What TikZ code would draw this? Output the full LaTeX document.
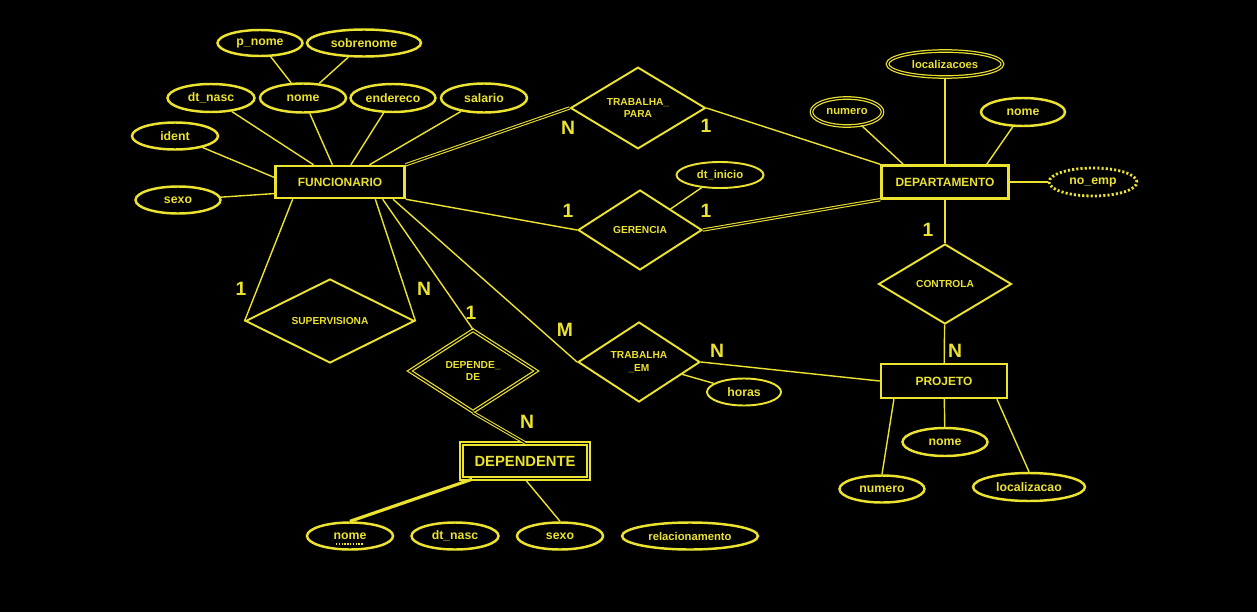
\documentclass[tikz,border=0pt]{standalone}
\usepackage{fontspec}
\setmainfont{Liberation Sans}
\definecolor{erYellow}{RGB}{236,226,48}
\usetikzlibrary{arrows.meta, positioning, shapes, calc}

\begin{document}
\begin{tikzpicture}[x=0.02cm, y=-0.02cm,
    entity/.style={draw=erYellow, line width=1.4pt, text=erYellow, font=\bfseries\fontsize{6.8}{8}\selectfont, inner sep=0pt},
    attr/.style={ellipse, draw=erYellow, line width=1.4pt, text=erYellow, font=\bfseries\fontsize{7}{8}\selectfont, inner sep=0pt},
    rel/.style={diamond, draw=erYellow, line width=1.1pt, text=erYellow, font=\bfseries\fontsize{5.8}{7}\selectfont, inner sep=0pt, align=center},
    link/.style={draw=erYellow, line width=0.8pt},
    total/.style={draw=erYellow, line width=0.6pt, double=black, double distance=0.7pt},
    card/.style={text=erYellow, font=\bfseries\fontsize{11}{12}\selectfont}]
        % Background
        \fill[black] (0,0) rectangle (1257,612);
        % Entities
        \node[entity, minimum width=2.58cm, minimum height=0.64cm] (func) at (340,182) {FUNCIONARIO};
        \node[entity, minimum width=2.54cm, minimum height=0.66cm] (dept) at (945,182) {DEPARTAMENTO};
        \node[entity, minimum width=2.52cm, minimum height=0.68cm] (proj) at (944,381) {PROJETO};
        \node[entity, line width=0.8pt, double=black, double distance=0.8pt, minimum width=2.54cm, minimum height=0.70cm, font=\bfseries\fontsize{8.4}{10}\selectfont] (dep) at (525,461) {DEPENDENTE};
        % Relationships
        \node[rel, minimum width=2.70cm, minimum height=1.60cm] (trabpara) at (638,108) {TRABALHA\_\\PARA};
        \node[rel, minimum width=2.48cm, minimum height=1.60cm] (ger) at (640,230) {GERENCIA};
        \node[rel, minimum width=2.66cm, minimum height=1.60cm] (contr) at (945,284) {CONTROLA};
        \node[rel, minimum width=2.44cm, minimum height=1.60cm] (trabem) at (639,362) {TRABALHA\\\_EM};
        \node[rel, minimum width=3.38cm, minimum height=1.34cm] (superv) at (330,321) {SUPERVISIONA};
        \node[rel, line width=0.7pt, double=black, double distance=0.8pt, minimum width=2.54cm, minimum height=1.64cm] (dependede) at (473,371) {DEPENDE\_\\DE};
        % FUNCIONARIO attributes
        \node[attr, minimum width=1.70cm, minimum height=0.52cm] (pnome) at (260,43) {p\_nome};
        \node[attr, minimum width=2.28cm, minimum height=0.54cm] (sobrenome) at (364,43) {sobrenome};
        \node[attr, minimum width=1.74cm, minimum height=0.56cm] (dtnasc) at (211,98) {dt\_nasc};
        \node[attr, minimum width=1.72cm, minimum height=0.58cm] (nome) at (303,98) {nome};
        \node[attr, minimum width=1.70cm, minimum height=0.56cm] (endereco) at (393,98) {endereco};
        \node[attr, minimum width=1.72cm, minimum height=0.58cm] (salario) at (484,98) {salario};
        \node[attr, minimum width=1.72cm, minimum height=0.54cm] (ident) at (175,136) {ident};
        \node[attr, minimum width=1.70cm, minimum height=0.54cm] (sexo) at (178,200) {sexo};
        % DEPARTAMENTO attributes
        \node[attr, double=black, double distance=0.7pt, line width=0.7pt, minimum width=2.30cm, minimum height=0.52cm, font=\bfseries\fontsize{6.4}{8}\selectfont] (localizacoes) at (945,64) {localizacoes};
        \node[attr, double=black, double distance=0.7pt, line width=0.7pt, minimum width=1.42cm, minimum height=0.56cm, font=\bfseries\fontsize{6.4}{8}\selectfont] (dnumero) at (847,112) {numero};
        \node[attr, minimum width=1.68cm, minimum height=0.56cm] (dnome) at (1023,112) {nome};
        \node[attr, dash pattern=on 1.2pt off 1.2pt, line width=1.6pt, minimum width=1.76cm, minimum height=0.56cm] (noemp) at (1093,182) {no\_emp};
        % relationship attributes
        \node[attr, line width=1.1pt, minimum width=1.74cm, minimum height=0.52cm, font=\bfseries\fontsize{6.4}{8}\selectfont] (dtinicio) at (720,175) {dt\_inicio};
        \node[attr, line width=1.1pt, minimum width=1.48cm, minimum height=0.54cm] (horas) at (744,392) {horas};
        % PROJETO attributes
        \node[attr, minimum width=1.70cm, minimum height=0.56cm] (pnome2) at (945,442) {nome};
        \node[attr, minimum width=1.70cm, minimum height=0.54cm] (pnum) at (882,489) {numero};
        \node[attr, minimum width=2.24cm, minimum height=0.56cm] (ploc) at (1029,487) {localizacao};
        % DEPENDENTE attributes
        \node[attr, minimum width=1.72cm, minimum height=0.54cm] (depnome) at (350,536) {nome};
        \node[attr, minimum width=1.74cm, minimum height=0.54cm] (depnasc) at (455,536) {dt\_nasc};
        \node[attr, minimum width=1.72cm, minimum height=0.54cm] (depsexo) at (560,536) {sexo};
        \node[attr, minimum width=2.72cm, minimum height=0.54cm, font=\bfseries\fontsize{6.4}{8}\selectfont] (deprel) at (690,536) {relacionamento};
        \draw[erYellow, line width=0.6pt, dash pattern=on 0.8pt off 0.8pt] ($(depnome.center)+(-14,8)$) -- ($(depnome.center)+(14,8)$);
        % Attribute links
        \draw[link] (pnome) -- (nome);
        \draw[link] (sobrenome) -- (nome);
        \draw[link] (dtnasc) -- (func);
        \draw[link] (nome) -- (func);
        \draw[link] (endereco) -- (func);
        \draw[link] (salario) -- (func);
        \draw[link] (ident) -- (func.176);
        \draw[link] (sexo) -- (func.190);
        \draw[link] (localizacoes) -- (dept);
        \draw[link] (dnumero) -- (dept.157);
        \draw[link] (dnome) -- (dept.23);
        \draw[link] (dept) -- (noemp);
        \draw[link] (dtinicio) -- (ger);
        \draw[link] (horas) -- (trabem);
        \draw[link] (proj.200) -- (pnum.north);
        \draw[link] (proj) -- (pnome2);
        \draw[link] (proj.-19) -- (ploc.north);
        \draw[erYellow, line width=0.6pt, double=erYellow, double distance=0.6pt] (dep.199) -- (depnome.north);
        \draw[link] (dep.south) -- (depsexo.north);
        % Relationship links
        \draw[total] (func.north east) -- (trabpara.west);
        \draw[link] (trabpara.east) -- (dept.north west);
        \draw[link] (func.south east) -- (ger.west);
        \draw[total] (ger.east) -- (dept.south west);
        \draw[link] (dept) -- (contr);
        \draw[link] (contr) -- (proj);
        \draw[link] (func.-18) -- (trabem.west);
        \draw[link] (trabem.east) -- (proj.west);
        \draw[link] (func.200) -- (superv.west);
        \draw[link] (func.-26) -- (superv.east);
        \draw[link] (func.-22) -- (dependede.north);
        \draw[total] (dependede.south) -- (dep.north);
        % Cardinalities
        \node[card] (cTpN) at (568,128) {N};
        \node[card] (cTp1) at (706,126) {1};
        \node[card] (cG1a) at (568,211) {1};
        \node[card] (cG1b) at (706,211) {1};
        \node[card] (cC1) at (928,230) {1};
        \node[card] (cCN) at (955,351) {N};
        \node[card] (cTeN) at (717,351) {N};
        \node[card] (cTeM) at (565,330) {M};
        \node[card] (cS1) at (241,289) {1};
        \node[card] (cSN) at (424,289) {N};
        \node[card] (cD1) at (471,313) {1};
        \node[card] (cDN) at (527,422) {N};
      \end{tikzpicture}
\end{document}
